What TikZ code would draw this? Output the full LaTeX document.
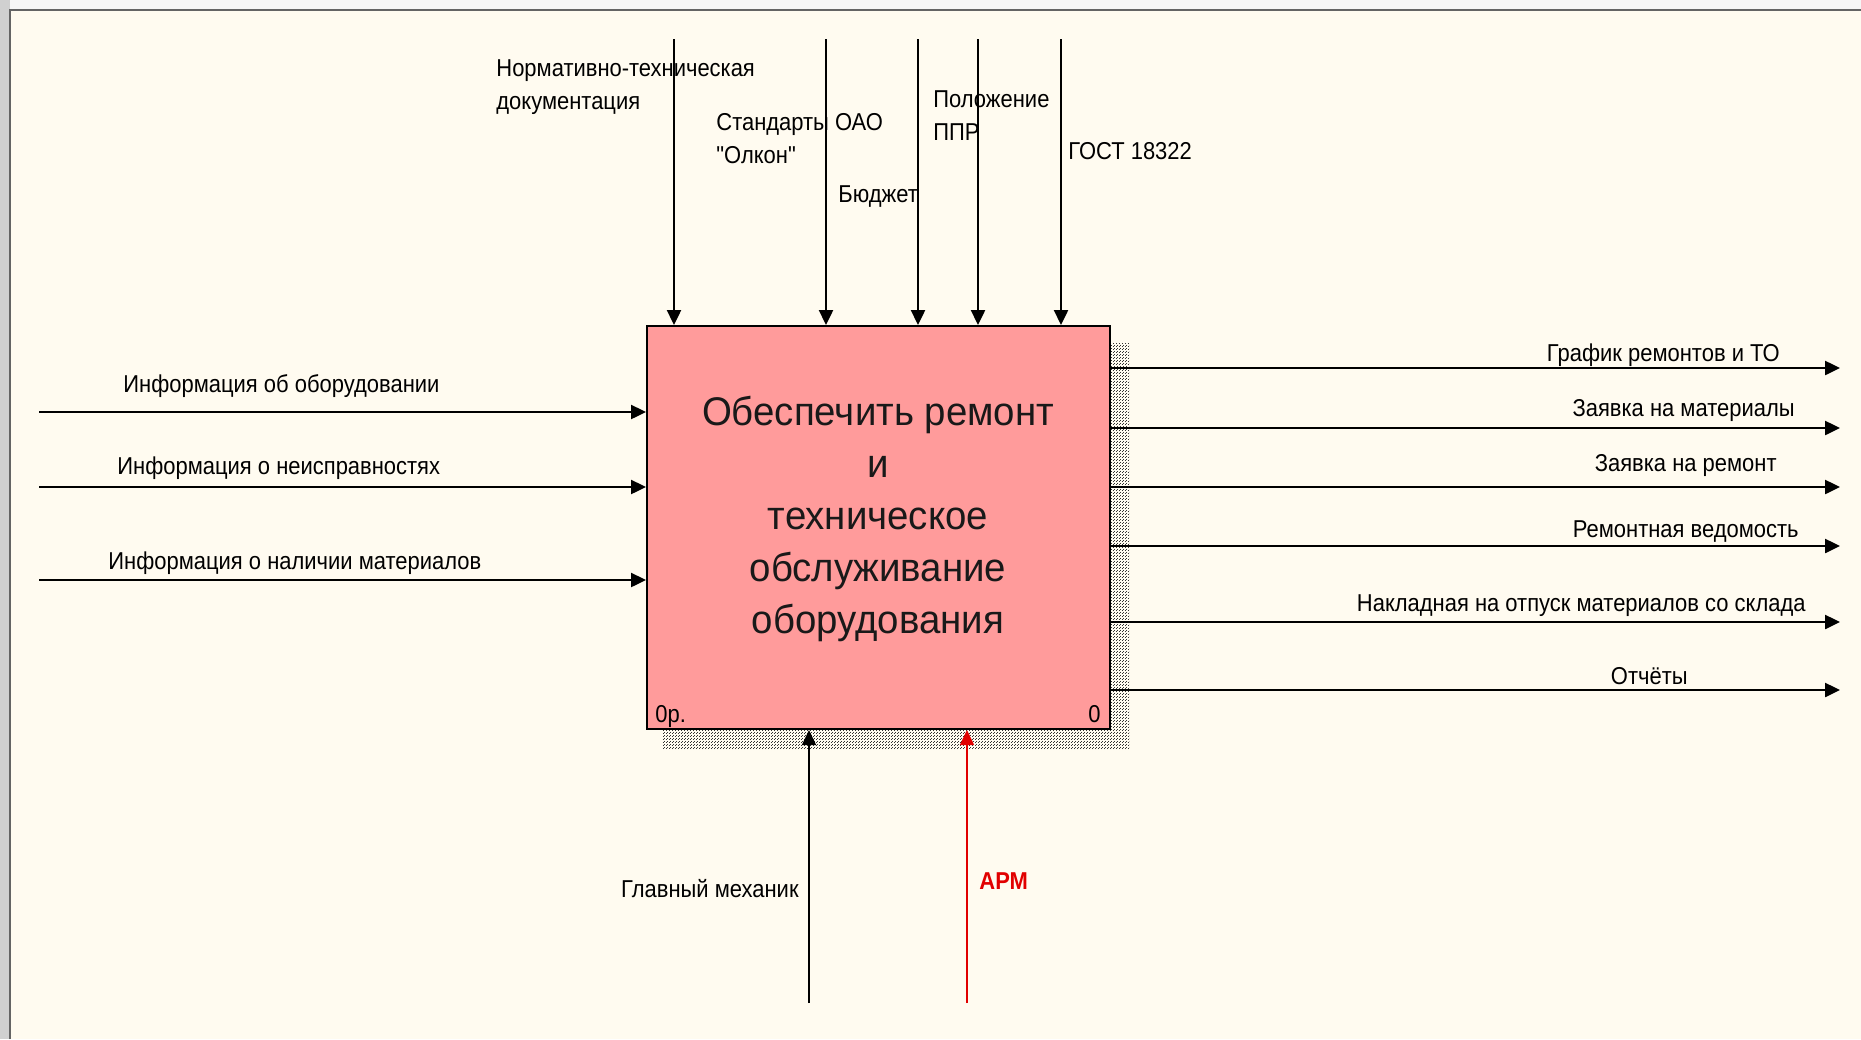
\documentclass[tikz,border=0pt]{standalone}
\usepackage{fontspec}
\setmainfont{Liberation Sans}
\newfontfamily\lblfont[FakeStretch=0.9]{Liberation Sans}
\newfontfamily\boxfont[FakeStretch=0.96]{Liberation Sans}
\usetikzlibrary{arrows.meta,patterns}

% fine dotted shade used for the function box shadow
\pgfdeclarepatternformonly{idefshade}{\pgfqpoint{0pt}{0pt}}{\pgfqpoint{1.5pt}{1.5pt}}{\pgfqpoint{1.5pt}{1.5pt}}{%
  \pgfpathrectangle{\pgfqpoint{0pt}{0pt}}{\pgfqpoint{0.5pt}{0.5pt}}%
  \pgfpathrectangle{\pgfqpoint{0.75pt}{0.75pt}}{\pgfqpoint{0.5pt}{0.5pt}}%
  \pgfusepath{fill}}

\definecolor{canvas}{RGB}{255,251,240}
\definecolor{boxpink}{RGB}{255,155,155}
\definecolor{framegray}{RGB}{100,100,100}
\definecolor{leftgray}{RGB}{208,208,208}
\definecolor{topgray}{RGB}{246,246,246}
\definecolor{armred}{RGB}{225,0,0}

\begin{document}
\begin{tikzpicture}[x=0.5pt,y=-0.5pt,
  flow/.style={line width=1.2pt,-{Triangle[length=7.5pt,width=7pt]}},
  mech/.style={line width=0.75pt,-{Triangle[length=7.5pt,width=7pt]}},
  lbl/.style={inner sep=0pt,font=\lblfont\fontsize{12.2}{16.75}\selectfont,align=left},
  fnbox/.style={draw,line width=1pt,fill=boxpink,inner sep=0pt,
    minimum width=231.5pt,minimum height=201.5pt},
  fntext/.style={inner sep=0pt,align=center,text=black!90,
    font=\boxfont\fontsize{20}{26}\selectfont}]

% page and frame
\useasboundingbox (0,0) rectangle (1861,1039);
\fill[topgray] (0,0) rectangle (1861,1039);
\fill[leftgray] (0,0) rectangle (10,1039);
\fill[canvas] (10,10) rectangle (1861,1039);
\draw[framegray,line width=1.2pt] (10,1039) -- (10,10) -- (1861,10);

% shadow of the function box
\fill[pattern=idefshade,pattern color=black!80] (1110,343) rectangle (1129,748);
\fill[pattern=idefshade,pattern color=black!80] (663,729) rectangle (1129,748);

% function box
\node[fnbox] (fn) at (878.5,527.5) {};
\node[fntext,anchor=north] (fnt) at (878,396)
  {Обеспечить ремонт\\и\\техническое\\обслуживание\\оборудования};
\node[lbl,anchor=base west] (cost) at (655,722) {0р.};
\node[lbl,anchor=base east] (num) at (1101,722) {0};

% controls
\coordinate (c1) at (674,39);
\coordinate (c2) at (826,39);
\coordinate (c3) at (918,39);
\coordinate (c4) at (978,39);
\coordinate (c5) at (1061,39);
\foreach \c in {c1,c2,c3,c4,c5}
  \draw[flow] (\c) -- (\c |- fn.north);
\node[lbl,anchor=north west] (lc1) at (496,59) {Нормативно-техническая\\документация};
\node[lbl,anchor=north west] (lc2) at (716,113) {Стандарты ОАО\\"Олкон"};
\node[lbl,anchor=base west] (lc3) at (838,202) {Бюджет};
\node[lbl,anchor=north west] (lc4) at (933,90) {Положение\\ППР};
\node[lbl,anchor=base west] (lc5) at (1068,159) {ГОСТ 18322};

% inputs
\coordinate (i1) at (39,412);
\coordinate (i2) at (39,487);
\coordinate (i3) at (39,580);
\foreach \i in {i1,i2,i3}
  \draw[flow] (\i) -- (\i -| fn.west);
\node[lbl,anchor=base west] (li1) at (123,392) {Информация об оборудовании};
\node[lbl,anchor=base west] (li2) at (117,474) {Информация о неисправностях};
\node[lbl,anchor=base west] (li3) at (108,569) {Информация о наличии материалов};

% outputs
\coordinate (o1) at (1840,368);
\coordinate (o2) at (1840,428);
\coordinate (o3) at (1840,487);
\coordinate (o4) at (1840,546);
\coordinate (o5) at (1840,622);
\coordinate (o6) at (1840,690);
\foreach \o in {o1,o2,o3,o4,o5,o6}
  \draw[flow] (\o -| fn.east) -- (\o);
\node[lbl,anchor=base east] (lo1) at (1780,361) {График ремонтов и ТО};
\node[lbl,anchor=base east] (lo2) at (1795,416) {Заявка на материалы};
\node[lbl,anchor=base east] (lo3) at (1777,471) {Заявка на ремонт};
\node[lbl,anchor=base east] (lo4) at (1799,537) {Ремонтная ведомость};
\node[lbl,anchor=base east] (lo5) at (1806,611) {Накладная на отпуск материалов со склада};
\node[lbl,anchor=base east] (lo6) at (1688,684) {Отчёты};

% mechanisms
\coordinate (m1) at (809,1003);
\coordinate (m2) at (967,1003);
\draw[mech] (m1) -- (m1 |- fn.south);
\draw[mech,armred] (m2) -- (m2 |- fn.south);
\node[lbl,anchor=base east] (lm1) at (799,897) {Главный механик};
\node[lbl,anchor=base west,text=armred,font=\lblfont\bfseries\fontsize{12.2}{16.75}\selectfont] (lm2) at (979,889) {АРМ};
\end{tikzpicture}
\end{document}
